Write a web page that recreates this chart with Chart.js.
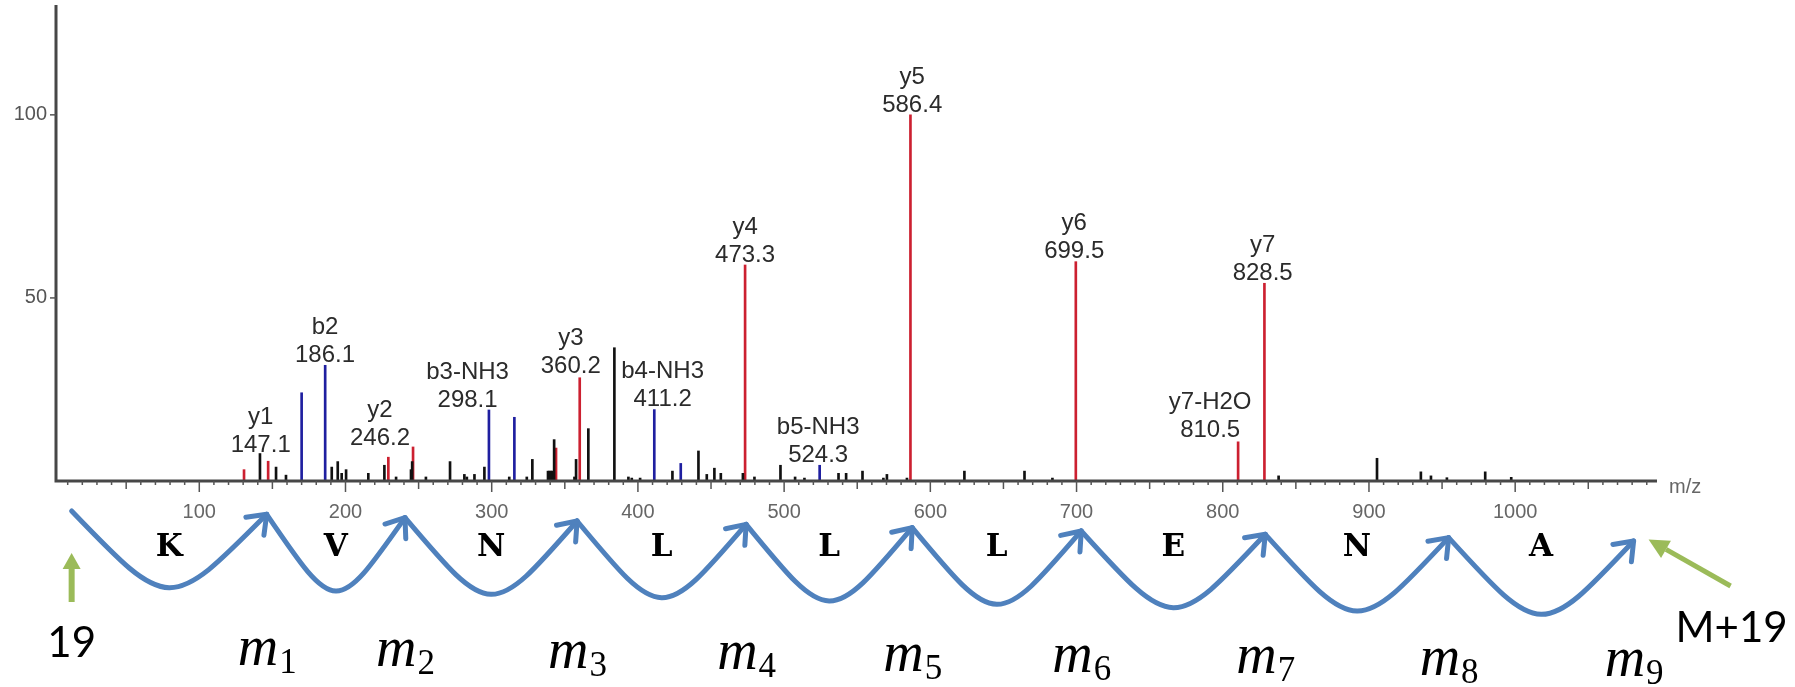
<!DOCTYPE html>
<html>
<head>
<meta charset="utf-8">
<script src="https://cdn.jsdelivr.net/npm/chart.js@4.4.1/dist/chart.umd.min.js"></script>
<style>
    html, body{margin:0; padding:0; background:#fff;}
    #wrap{width:1795px; height:687px;}
</style>
</head>
<body>
<div id="wrap"><canvas id="spec" width="1795" height="687"></canvas></div>
<script>
// y ions (red)
var yIonMz  = [130.6, 147.1, 229.3, 246.2, 344.0, 360.2, 473.3, 586.4, 699.5, 810.5, 828.5];
var yIonInt = [3.1, 5.4, 6.5, 9.3, 9.0, 28.2, 59.0, 100, 59.9, 10.7, 54.0];
// b ions (blue)
var bIonMz  = [170.0, 186.1, 298.1, 315.5, 411.2, 429.3, 524.3];
var bIonInt = [24.1, 31.6, 19.4, 17.4, 19.5, 4.8, 4.3];
// other peaks (black)
var otherMz  = [141.5, 152.5, 159.3, 190.6, 194.7, 197.4, 200.4, 215.6, 226.6, 234.6, 244.8, 245.6, 255.0,
                271.5, 281.3, 283.0, 288.2, 295.0, 312.0, 324.0, 327.8, 338.5, 339.5, 340.5, 341.5, 342.7,
                356.6, 357.7, 366.1, 383.9, 393.5, 395.8, 401.5, 423.6, 441.4, 447.1, 452.3, 456.7, 471.8,
                479.7, 497.5, 507.5, 513.9, 537.2, 542.4, 553.6, 567.9, 570.3, 584.0, 623.3, 664.4, 683.5,
                838.2, 905.5, 935.5, 942.4, 953.3, 979.5, 997.3];
var otherInt = [7.5, 3.8, 1.6, 3.8, 5.3, 2.1, 3.1, 2.1, 4.3, 1.1, 3.1, 5.3, 1.1,
                5.3, 1.8, 1.1, 1.8, 3.8, 1.1, 1.1, 5.9, 2.7, 2.7, 2.7, 2.7, 11.3,
                1.1, 5.9, 14.3, 36.4, 1.1, 0.8, 0.8, 2.7, 8.2, 1.8, 3.5, 2.1, 2.1,
                1.1, 4.3, 1.1, 0.8, 2.1, 2.1, 2.7, 0.8, 1.8, 0.8, 2.7, 2.7, 0.8,
                1.4, 6.2, 2.5, 1.4, 0.9, 2.5, 1.0];

// peak annotations
var labelIon  = ['y1', 'b2', 'y2', 'b3-NH3', 'y3', 'b4-NH3', 'y4', 'b5-NH3', 'y5', 'y6', 'y7-H2O', 'y7'];
var labelMass = ['147.1', '186.1', '246.2', '298.1', '360.2', '411.2', '473.3', '524.3', '586.4', '699.5', '810.5', '828.5'];
var labelMz   = [142.0, 186.0, 223.6, 283.5, 354.1, 416.9, 473.3, 523.3, 587.6, 698.4, 791.4, 827.3];
var labelInt  = [8.0, 32.6, 9.8, 20.3, 29.4, 20.5, 59.9, 5.3, 100.9, 60.8, 12.1, 54.9];

var xTicks = [100, 200, 300, 400, 500, 600, 700, 800, 900, 1000];
var yTicks = [50, 100];

// sequence ladder under the axis
var residues = ['K', 'V', 'N', 'L', 'L', 'L', 'E', 'N', 'A'];
var cutMz    = [12.7, 146.1, 240.7, 358.4, 474.0, 587.6, 703.2, 829.1, 954.5, 1081.0];

function pairs(xs, ys){
    return xs.map(function(v, i){ return {x: v, y: ys[i]}; });
}

function arrow(ctx, x0, y0, x1, y1, w, headLen, headW){
    var ang = Math.atan2(y1 - y0, x1 - x0);
    var bx = x1 - headLen * Math.cos(ang), by = y1 - headLen * Math.sin(ang);
    ctx.lineWidth = w;
    ctx.beginPath(); ctx.moveTo(x0, y0); ctx.lineTo(bx, by); ctx.stroke();
    ctx.beginPath();
    ctx.moveTo(x1, y1);
    ctx.lineTo(bx + headW * Math.sin(ang), by - headW * Math.cos(ang));
    ctx.lineTo(bx - headW * Math.sin(ang), by + headW * Math.cos(ang));
    ctx.closePath(); ctx.fill();
}

var decor = {
    id: 'decor',
    afterDatasetsDraw: function(chart){
        var ctx = chart.ctx, a = chart.chartArea;
        var xs = chart.scales.x, ys = chart.scales.y;
        var base = ys.getPixelForValue(0);
        ctx.save();

        // axis lines
        ctx.strokeStyle = '#474747';
        ctx.lineWidth = 3;
        ctx.beginPath();
        ctx.moveTo(a.left, a.top); ctx.lineTo(a.left, base);
        ctx.lineTo(a.right, base);
        ctx.stroke();

        // x ticks (10 / 50 / 100)
        ctx.lineWidth = 1.5;
        ctx.strokeStyle = '#555';
        for (var v = 10; v < xs.max; v += 10) {
            var px = xs.getPixelForValue(v);
            var len = v % 100 === 0 ? 11 : (v % 50 === 0 ? 8 : 4);
            ctx.beginPath(); ctx.moveTo(px, base); ctx.lineTo(px, base + len); ctx.stroke();
        }
        ctx.fillStyle = '#666';
        ctx.font = '20px "Liberation Sans"';
        ctx.textAlign = 'center';
        ctx.textBaseline = 'middle';
        xTicks.forEach(function(t){
            ctx.fillText(String(t), xs.getPixelForValue(t), base + 31);
        });
        ctx.textAlign = 'left';
        ctx.fillText('m/z', a.right + 12, base + 6);

        // y ticks
        ctx.textAlign = 'right';
        ctx.fillStyle = '#555';
        yTicks.forEach(function(t){
            var py = ys.getPixelForValue(t);
            ctx.beginPath(); ctx.moveTo(a.left - 6, py); ctx.lineTo(a.left, py); ctx.stroke();
            ctx.fillText(String(t), a.left - 9, py);
        });

        // peak annotations
        ctx.fillStyle = '#2b2b2b';
        ctx.font = '24px "Liberation Sans"';
        ctx.textAlign = 'center';
        ctx.textBaseline = 'alphabetic';
        labelIon.forEach(function(ion, i){
            var px = xs.getPixelForValue(labelMz[i]);
            var py = ys.getPixelForValue(labelInt[i]);
            ctx.fillText(labelMass[i], px, py);
            ctx.fillText(ion, px, py - 28);
        });

        // sequence ladder
        var pts = cutMz.map(function(m, i){
            return {x: xs.getPixelForValue(m), y: base + 30 + i * 3.33};
        });
        ctx.strokeStyle = '#4f81bd';
        ctx.lineWidth = 5;
        ctx.lineCap = 'round';
        ctx.lineJoin = 'round';
        for (var i = 0; i < pts.length - 1; i++) {
            var A = pts[i], B = pts[i + 1];
            var mx = (A.x + B.x) / 2, cy = (A.y + B.y) / 2 + 100;
            ctx.beginPath();
            ctx.moveTo(A.x, A.y);
            ctx.bezierCurveTo(mx, cy, mx, cy, B.x, B.y);
            ctx.stroke();
            var ang = Math.atan2(B.y - cy, B.x - mx);
            ctx.beginPath();
            ctx.moveTo(B.x - 21 * Math.cos(ang - 0.65), B.y - 21 * Math.sin(ang - 0.65));
            ctx.lineTo(B.x, B.y);
            ctx.lineTo(B.x - 21 * Math.cos(ang + 0.65), B.y - 21 * Math.sin(ang + 0.65));
            ctx.stroke();

            // residue letter
            ctx.fillStyle = '#000';
            ctx.font = 'bold 31px "DejaVu Serif"';
            ctx.textAlign = 'center';
            ctx.fillText(residues[i], mx, base + 75);

            // m_i label
            var mb = base + 184 + i * 1.4;
            ctx.font = 'italic 56px "Liberation Serif"';
            var wm = ctx.measureText('m').width;
            ctx.font = '35px "Liberation Serif"';
            var sub = String(i + 1);
            var ws = ctx.measureText(sub).width;
            var sx = B.x - (wm + ws) / 2;
            ctx.textAlign = 'left';
            ctx.font = 'italic 56px "Liberation Serif"';
            ctx.fillText('m', sx, mb);
            ctx.font = '35px "Liberation Serif"';
            ctx.fillText(sub, sx + wm + 1, mb + 8);
        }

        // start / end markers
        var first = pts[0], last = pts[pts.length - 1];
        ctx.fillStyle = '#9bbb59';
        ctx.strokeStyle = '#9bbb59';
        ctx.lineCap = 'butt';
        arrow(ctx, first.x, base + 121, first.x, base + 72, 6, 16, 9);
        arrow(ctx, last.x + 97, base + 105, last.x + 15, last.y - 1.5, 5, 20, 10);

        ctx.fillStyle = '#000';
        ctx.font = '42px Lato';
        ctx.textAlign = 'center';
        ctx.fillText('19', first.x, base + 176);
        ctx.textAlign = 'left';
        ctx.fillText('M+19', last.x + 42, base + 161);

        ctx.restore();
    }
};

var barOpts = {barThickness: 2, borderWidth: 0, grouped: false};

new Chart(document.getElementById('spec').getContext('2d'), {
    type: 'bar',
    data: {
        datasets: [
            Object.assign({label: 'other', data: pairs(otherMz, otherInt), backgroundColor: '#111'}, barOpts),
            Object.assign({label: 'b ions', data: pairs(bIonMz, bIonInt), backgroundColor: '#1f1fa0'}, barOpts),
            Object.assign({label: 'y ions', data: pairs(yIonMz, yIonInt), backgroundColor: '#cc2030'}, barOpts)
        ]
    },
    options: {
        responsive: false,
        animation: false,
        layout: {padding: {left: 56, right: 138, top: 5, bottom: 206}},
        plugins: {legend: {display: false}, tooltip: {enabled: false}},
        scales: {
            x: {type: 'linear', min: 2, max: 1097, offset: false, display: false},
            y: {min: 0, max: 130, display: false}
        }
    },
    plugins: [decor]
});
</script>
</body>
</html>
